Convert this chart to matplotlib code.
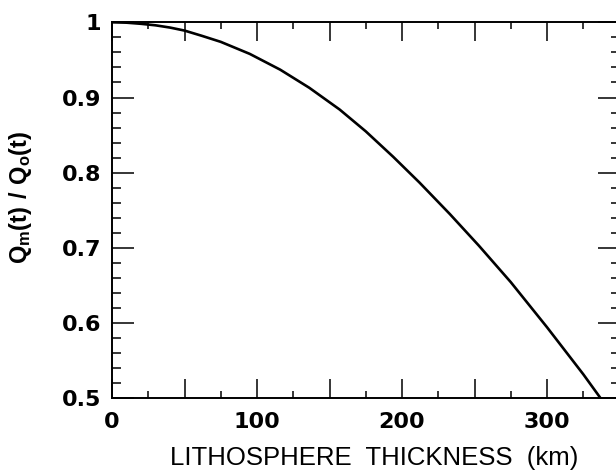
import numpy as np
import matplotlib
matplotlib.use('Agg')
import matplotlib.pyplot as plt

# curve
thickness = [0, 10, 20, 30, 40, 50, 62, 75, 95, 116, 136, 157, 175, 194, 212, 233,
             253, 275, 300, 325, 337]
ratio = [1.000, 0.9995, 0.998, 0.996, 0.993, 0.989, 0.982, 0.974, 0.958, 0.937,
         0.913, 0.884, 0.855, 0.821, 0.787, 0.745, 0.703, 0.6545, 0.5945, 0.532, 0.5]

xticks = [0, 50, 100, 150, 200, 250, 300, 350]
xticklabels = ['0', '', '100', '', '200', '', '300', '']
yticks = [0.5, 0.6, 0.7, 0.8, 0.9, 1.0]
yticklabels = ['0.5', '0.6', '0.7', '0.8', '0.9', '1']

plt.rcParams['font.family'] = ['Liberation Sans', 'DejaVu Sans']

fig = plt.figure(figsize=(6.16, 4.73), dpi=100)
W, H = 616.0, 473.0
ax = fig.add_axes([112 / W, (H - 398.3) / H, 507.5 / W, 376.0 / H])

ax.plot(thickness, ratio, color='black', lw=1.9, solid_capstyle='butt')

ax.set_xlim(0, 350)
ax.set_ylim(0.5, 1.0)

tick_font = dict(fontfamily='DejaVu Sans', fontweight='bold', fontsize=16)
ax.set_xticks(xticks, xticklabels, **tick_font)
ax.set_yticks(yticks, yticklabels, **tick_font)
ax.set_xticks(np.arange(0, 351, 25), minor=True)
ax.set_yticks(np.arange(0.5, 1.001, 0.02), minor=True)

ax.tick_params(which='both', direction='in', top=True, right=True, width=1.1, color='black')
ax.tick_params(axis='x', which='major', length=14, pad=10)
ax.tick_params(axis='x', which='minor', length=5)
ax.tick_params(axis='y', which='major', length=15.5, pad=8)
ax.tick_params(axis='y', which='minor', length=6.5)

for s in ax.spines.values():
    s.set_linewidth(1.4)

ax.set_xlabel('LITHOSPHERE  THICKNESS  (km)', fontsize=18.5)
ax.xaxis.set_label_coords((374.5 - 112) / 507.5, (398.3 - 465) / 376.0)
ax.xaxis.label.set_verticalalignment('baseline')

ax.set_ylabel(r'$\mathregular{Q_m(t)\ /\ Q_o(t)}$', fontsize=17, fontweight='bold')
ax.yaxis.set_label_coords((20 - 112) / 507.5, (398.3 - 197) / 376.0)
ax.yaxis.label.set_verticalalignment('center')

fig.savefig('out.png', dpi=100)
